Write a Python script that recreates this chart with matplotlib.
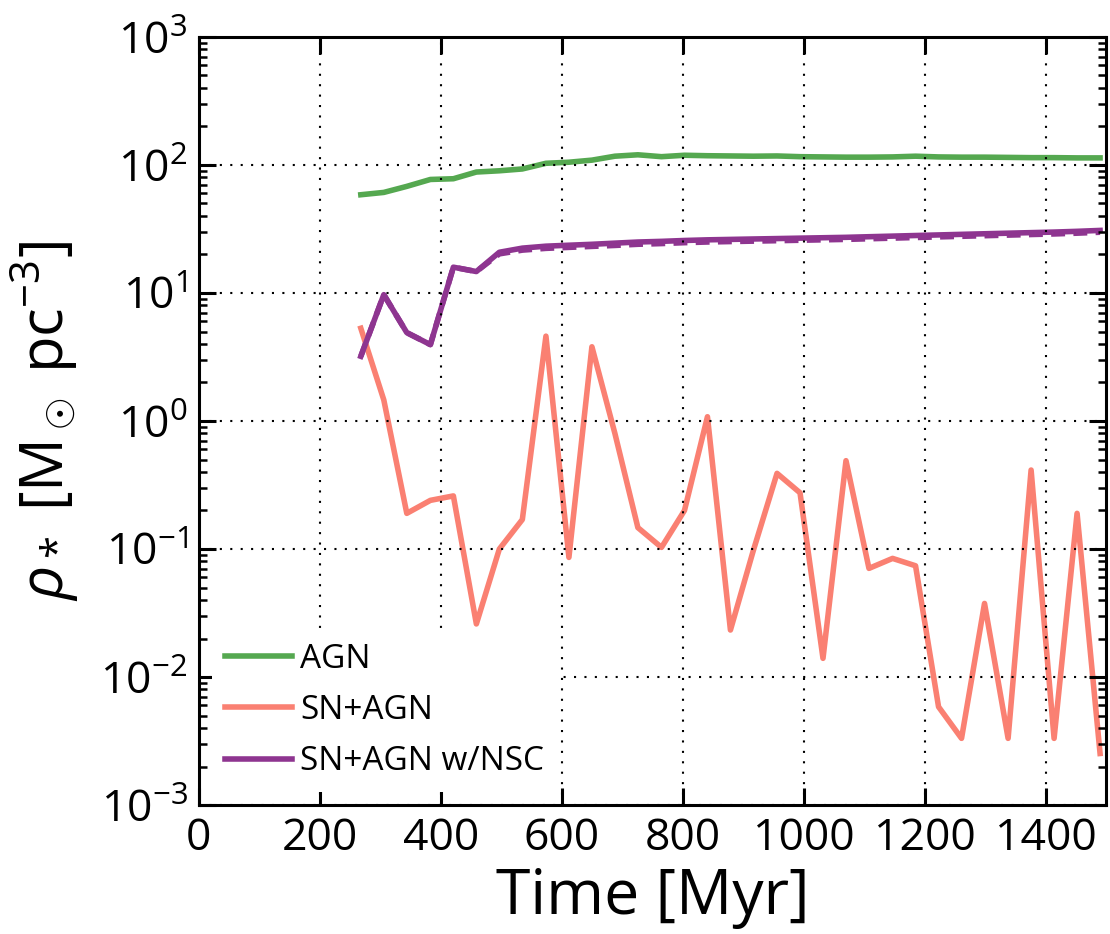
import numpy as np
import matplotlib
matplotlib.use('Agg')
import matplotlib.pyplot as plt

plt.rcParams['font.family'] = ['Open Sans', 'DejaVu Sans']
plt.rcParams['mathtext.fontset'] = 'custom'
plt.rcParams['mathtext.rm'] = 'Open Sans'
plt.rcParams['mathtext.it'] = 'Open Sans:italic'
plt.rcParams['mathtext.bf'] = 'Open Sans:bold'

#---------------- DATA ----------------#
time = [268, 306, 344, 383, 421, 459, 497, 535, 574, 612, 650, 688, 726,
        765, 803, 841, 879, 917, 956, 994, 1032, 1070, 1108, 1147, 1185,
        1223, 1261, 1299, 1338, 1376, 1414, 1452, 1490]

agn = [58.5, 61, 68, 77, 78, 88, 90, 93, 103, 105, 109, 117, 120,
       116, 119, 118, 117.5, 117, 117.5, 116, 115.5, 115, 115, 115.5, 117,
       115.5, 115, 115, 114.5, 114, 114, 113.5, 113.5]

sn_agn = [5.3, 1.46, 0.19, 0.24, 0.26, 0.026, 0.1, 0.17, 4.6, 0.086, 3.8,
          0.8, 0.147, 0.103, 0.2, 1.08, 0.0233, 0.098, 0.39, 0.275, 0.014,
          0.49, 0.0706, 0.0845, 0.074, 0.00586, 0.00332, 0.0376, 0.00332,
          0.414, 0.00332, 0.19, 0.00253]

nsc = [3.2, 9.7, 4.9, 3.95, 15.9, 14.7, 20.8, 22.4, 23.2, 23.6, 24.0, 24.5,
       25.0, 25.3, 25.7, 26.0, 26.2, 26.4, 26.6, 26.8, 27.0, 27.2, 27.5,
       27.8, 28.1, 28.4, 28.7, 29.0, 29.3, 29.6, 29.9, 30.3, 30.8]

nsc_dash = [3.2, 9.7, 4.9, 3.95, 15.9, 14.7, 20.2, 21.6, 22.3, 22.7, 23.1,
            23.5, 24.0, 24.3, 24.7, 25.0, 25.2, 25.4, 25.6, 25.8, 26.0, 26.2,
            26.5, 26.8, 27.1, 27.4, 27.7, 28.0, 28.3, 28.6, 28.9, 29.3, 29.8]

c_agn = '#55a850'
c_sn = '#fa8072'
c_nsc = '#8e3590'

#---------------- PLOT ----------------#
fig = plt.figure(figsize=(11.1, 9.34), dpi=100)
ax = fig.add_axes([0.179, 0.138, 0.8175, 0.8225])

ax.plot(time, nsc_dash, color=c_nsc, lw=4, ls=(0, (2.5, 1.5)))
ax.plot(time, agn, color=c_agn, lw=4, label='AGN')
ax.plot(time, sn_agn, color=c_sn, lw=4, label='SN+AGN')
ax.plot(time, nsc, color=c_nsc, lw=4, label='SN+AGN w/NSC')

ax.set_yscale('log')
ax.set_xlim(0, 1500)
ax.set_ylim(1e-3, 1e3)

ax.grid(True, which='major', color='black', ls=(0, (1, 4)), lw=1.5)
ax.set_axisbelow(False)

for s in ax.spines.values():
    s.set_linewidth(2.2)
ax.tick_params(which='major', direction='in', length=12, width=2.2,
               top=True, right=True, labelsize=32, pad=8)
ax.tick_params(which='minor', direction='in', length=6, width=1.8,
               top=True, right=True)
ax.set_xticks([0, 200, 400, 600, 800, 1000, 1200, 1400])

ax.set_xlabel('Time [Myr]', fontsize=45, labelpad=4)
ax.set_ylabel(r'$\rho_*$ [M$_\odot$ pc$^{-3}$]', fontsize=43, labelpad=14)

leg = ax.legend(loc='lower left', fontsize=24, frameon=True, fancybox=False,
                handlelength=2.0, handletextpad=0.25, borderaxespad=0.4,
                labelspacing=0.55)
leg.get_frame().set_edgecolor('none')
leg.get_frame().set_facecolor('white')
leg.get_frame().set_alpha(1.0)

plt.savefig('out.png', dpi=100)
